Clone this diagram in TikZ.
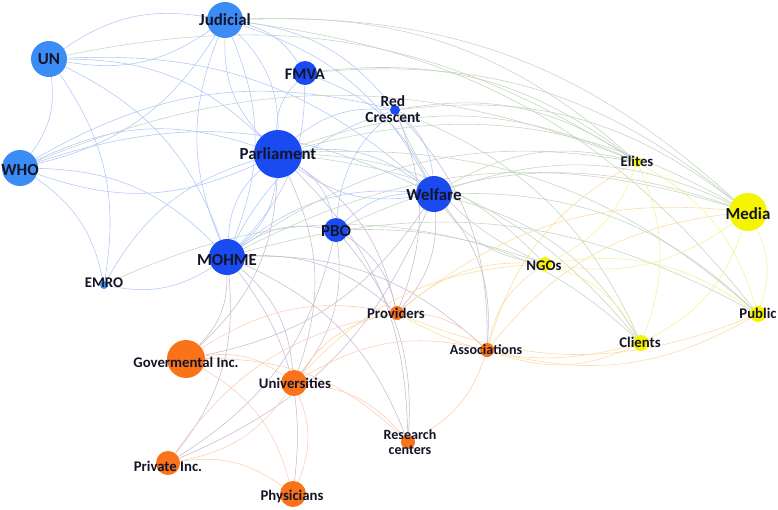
\documentclass[tikz,border=0pt]{standalone}
\usepackage{fontspec}
\setmainfont{Carlito}
\usetikzlibrary{backgrounds}
\definecolor{lblue}{RGB}{60,140,245}
\definecolor{dblue}{RGB}{25,75,240}
\definecolor{yel}{RGB}{245,245,0}
\definecolor{ora}{RGB}{250,115,25}
\definecolor{ebb}{RGB}{175,200,246}
\definecolor{eby}{RGB}{196,212,192}
\definecolor{ebo}{RGB}{200,187,206}
\definecolor{eoo}{RGB}{252,205,180}
\definecolor{eoy}{RGB}{252,220,160}
\definecolor{eyy}{RGB}{242,242,150}
\definecolor{txt}{RGB}{20,20,40}
\tikzset{
  dot/.style={circle,inner sep=0pt,fill=#1},
  big/.style={text=txt,font=\fontsize{12}{13}\selectfont\bfseries,inner sep=0pt},
  sml/.style={text=txt,font=\fontsize{10.5}{11.5}\selectfont\bfseries,inner sep=0pt,align=center},
  edge/.style={draw=#1,line width=0.4pt},
}
\begin{document}
\begin{tikzpicture}[x=0.025cm,y=-0.025cm]
\useasboundingbox (0,0) rectangle (778,509);
% nodes
\node[dot=lblue,minimum size=0.9cm] (judicial) at (225,20) {};
\node[dot=lblue,minimum size=0.9cm] (un) at (49,59) {};
\node[dot=lblue,minimum size=0.9cm] (who) at (20,168) {};
\node[dot=dblue,minimum size=0.6cm] (fmva) at (305,73) {};
\node[dot=dblue,minimum size=1.2cm] (parl) at (278,154) {};
\node[dot=dblue,minimum size=0.6cm] (pbo) at (336,230) {};
\node[dot=dblue,minimum size=0.9cm] (mohme) at (227,257) {};
\node[dot=lblue,minimum size=0.2cm] (emro) at (104,285) {};
\node[dot=dblue,minimum size=0.25cm] (redc) at (395,110) {};
\node[dot=dblue,minimum size=0.9cm] (welfare) at (434,194) {};
\node[dot=yel,minimum size=0.25cm] (elites) at (637,162) {};
\node[dot=yel,minimum size=0.95cm] (media) at (748,212) {};
\node[dot=yel,minimum size=0.35cm] (ngos) at (545,264) {};
\node[dot=yel,minimum size=0.4cm] (public) at (758,314) {};
\node[dot=yel,minimum size=0.4cm] (clients) at (641,343) {};
\node[dot=ora,minimum size=0.35cm] (prov) at (397,313) {};
\node[dot=ora,minimum size=0.35cm] (assoc) at (487,350) {};
\node[dot=ora,minimum size=0.95cm] (gov) at (186,359) {};
\node[dot=ora,minimum size=0.65cm] (univ) at (294,383) {};
\node[dot=ora,minimum size=0.6cm] (priv) at (168,463) {};
\node[dot=ora,minimum size=0.65cm] (phys) at (293,494) {};
\node[dot=ora,minimum size=0.35cm] (res) at (408,442) {};
% edges
\begin{scope}[on background layer]
\foreach \a/\b in {judicial/un,un/judicial,judicial/who,judicial/parl,parl/judicial,judicial/mohme,judicial/fmva,judicial/redc,judicial/welfare,un/who,un/parl,un/mohme,un/welfare,un/emro,who/parl,parl/who,who/mohme,who/emro,who/welfare,who/redc,parl/fmva,fmva/mohme,parl/mohme,mohme/parl,parl/pbo,parl/welfare,welfare/parl,parl/redc,mohme/emro,mohme/pbo,mohme/welfare,mohme/redc,pbo/welfare,pbo/redc,redc/welfare,fmva/welfare,emro/parl,mohme/judicial}
  \draw[edge=ebb] (\a) to[bend left=22] (\b);
\foreach \a/\b in {judicial/media,judicial/elites,un/elites,fmva/media,fmva/elites,parl/media,parl/elites,parl/public,parl/clients,parl/ngos,redc/elites,redc/media,redc/clients,welfare/media,welfare/public,welfare/clients,welfare/elites,mohme/media,mohme/elites,mohme/public,pbo/media,pbo/clients,who/elites,emro/ngos,ngos/welfare,ngos/redc,judicial/public}
  \draw[edge=eby] (\a) to[bend left=22] (\b);
\foreach \a/\b in {mohme/gov,mohme/univ,mohme/priv,mohme/phys,mohme/prov,mohme/res,mohme/assoc,parl/univ,parl/gov,parl/prov,parl/res,welfare/prov,welfare/assoc,welfare/priv,welfare/gov,pbo/univ,pbo/prov,pbo/res,pbo/priv,redc/assoc,redc/prov}
  \draw[edge=ebo] (\a) to[bend left=22] (\b);
\foreach \a/\b in {gov/univ,gov/phys,gov/prov,univ/phys,univ/priv,univ/res,univ/assoc,univ/prov,priv/phys,priv/prov,assoc/res,prov/assoc,gov/res}
  \draw[edge=eoo] (\a) to[bend left=22] (\b);
\foreach \a/\b in {assoc/media,public/assoc,clients/assoc,assoc/ngos,assoc/elites,prov/ngos,clients/prov,public/prov,univ/ngos,prov/media}
  \draw[edge=eoy] (\a) to[bend left=22] (\b);
\foreach \a/\b in {elites/clients,elites/public,media/clients,media/public,ngos/public,ngos/clients,media/ngos,elites/ngos}
  \draw[edge=eyy] (\a) to[bend left=22] (\b);
\end{scope}
% labels
\node[big] (t-judicial) at (225,20) {Judicial};
\node[big] (t-un) at (49,59) {UN};
\node[big] (t-who) at (20,170) {WHO};
\node[sml,font=\fontsize{11.5}{12}\selectfont\bfseries] (t-fmva) at (305,74) {FMVA};
\node[big] (t-parl) at (278,154) {Parliament};
\node[big] (t-pbo) at (336,231) {PBO};
\node[big] (t-mohme) at (227,260) {MOHME};
\node[sml] (t-emro) at (104,283) {EMRO};
\node[sml,font=\fontsize{11}{11.5}\selectfont\bfseries] (t-redc) at (393,109) {Red\\Crescent};
\node[big] (t-welfare) at (434,195) {Welfare};
\node[sml] (t-elites) at (637,161) {Elites};
\node[big] (t-media) at (748,214) {Media};
\node[sml] (t-ngos) at (544,266) {NGOs};
\node[sml] (t-public) at (758,313) {Public};
\node[sml] (t-clients) at (640,342) {Clients};
\node[sml] (t-prov) at (396,313) {Providers};
\node[sml,font=\fontsize{10}{11}\selectfont\bfseries] (t-assoc) at (486,350) {Associations};
\node[sml] (t-gov) at (186,362) {Govermental Inc.};
\node[sml] (t-univ) at (295,383) {Universities};
\node[sml] (t-priv) at (168,466) {Private Inc.};
\node[sml] (t-phys) at (292,496) {Physicians};
\node[sml,font=\fontsize{10}{11}\selectfont\bfseries] (t-res) at (410,442) {Research\\centers};
\end{tikzpicture}
\end{document}
